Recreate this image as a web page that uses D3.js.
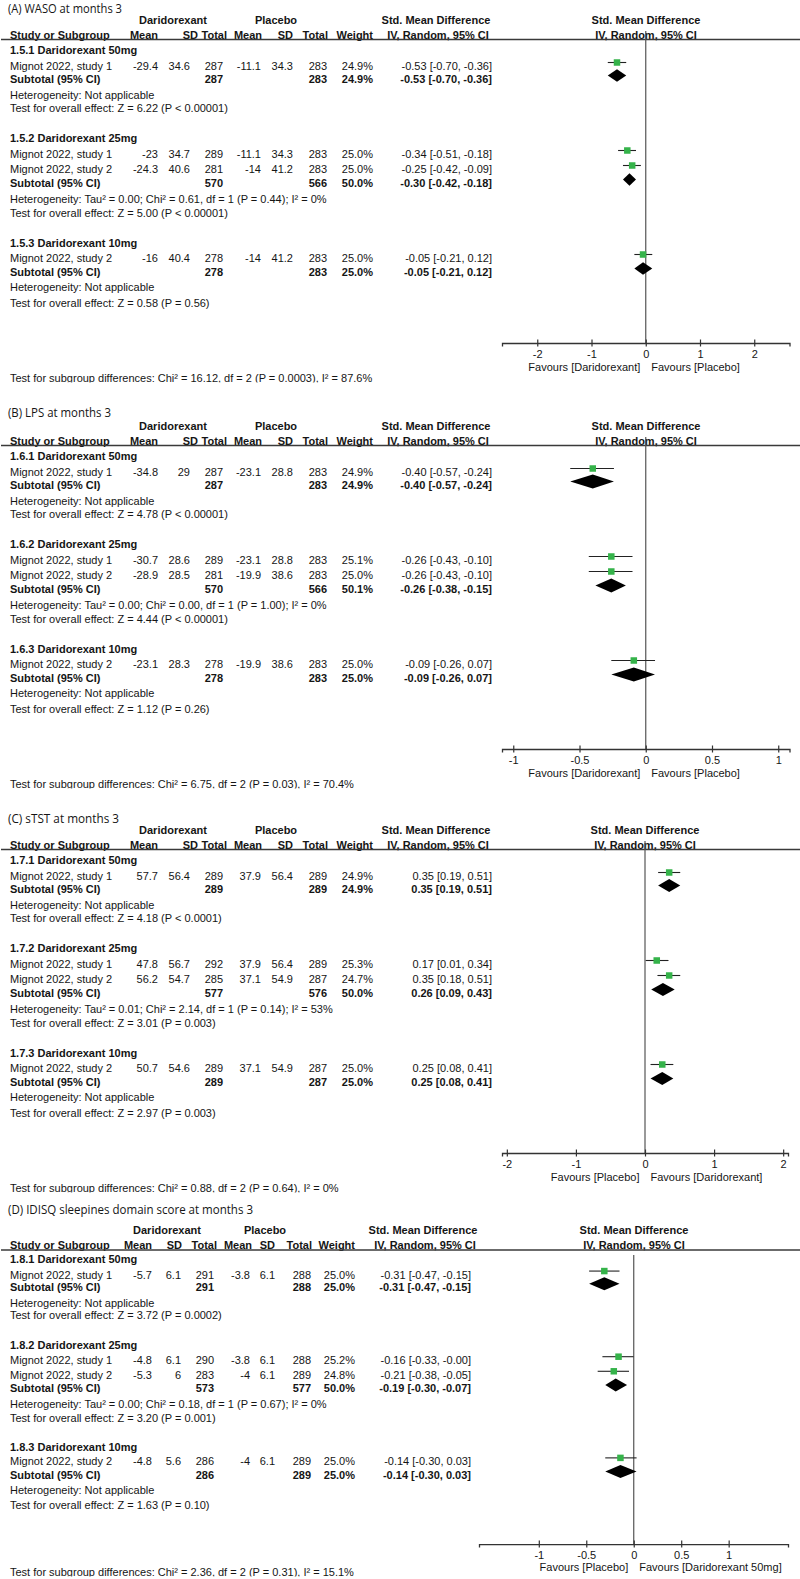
<!DOCTYPE html>
<html><head><meta charset="utf-8">
<script src="https://cdn.jsdelivr.net/npm/d3@7"></script>
<style>
body{margin:0;background:#fff;}
svg{display:block;}
text{font-family:"Liberation Sans",Arial,sans-serif;font-size:11px;fill:#151515;}
text.title{font-family:"Open Sans","Noto Sans",sans-serif;}
text.b{font-weight:bold;}
</style></head><body>
<svg id="c" width="800" height="1579"></svg>
<script>
// ---------------- DATA ----------------
const titles = ["(A) WASO at months 3", "(B) LPS at months 3", "(C) sTST at months 3", "(D) IDISQ sleepines domain score at months 3"];
const subgroupCodes = [["1.5.1", "1.5.2", "1.5.3"], ["1.6.1", "1.6.2", "1.6.3"], ["1.7.1", "1.7.2", "1.7.3"], ["1.8.1", "1.8.2", "1.8.3"]];
const doses = ["Daridorexant 50mg", "Daridorexant 25mg", "Daridorexant 10mg"];
const columnHeaders = ["Mean", "SD", "Total", "Mean", "SD", "Total", "Weight"];

// [subgroup, study, expMean, expSD, expN, ctlMean, ctlSD, ctlN, weight, smd, lo, hi]
const studiesA = [
  [0, "Mignot 2022, study 1", -29.4, 34.6, 287, -11.1, 34.3, 283, 24.9, -0.53, -0.70, -0.36],
  [1, "Mignot 2022, study 1", -23, 34.7, 289, -11.1, 34.3, 283, 25.0, -0.34, -0.51, -0.18],
  [1, "Mignot 2022, study 2", -24.3, 40.6, 281, -14, 41.2, 283, 25.0, -0.25, -0.42, -0.09],
  [2, "Mignot 2022, study 2", -16, 40.4, 278, -14, 41.2, 283, 25.0, -0.05, -0.21, 0.12]
];
const studiesB = [
  [0, "Mignot 2022, study 1", -34.8, 29, 287, -23.1, 28.8, 283, 24.9, -0.40, -0.57, -0.24],
  [1, "Mignot 2022, study 1", -30.7, 28.6, 289, -23.1, 28.8, 283, 25.1, -0.26, -0.43, -0.10],
  [1, "Mignot 2022, study 2", -28.9, 28.5, 281, -19.9, 38.6, 283, 25.0, -0.26, -0.43, -0.10],
  [2, "Mignot 2022, study 2", -23.1, 28.3, 278, -19.9, 38.6, 283, 25.0, -0.09, -0.26, 0.07]
];
const studiesC = [
  [0, "Mignot 2022, study 1", 57.7, 56.4, 289, 37.9, 56.4, 289, 24.9, 0.35, 0.19, 0.51],
  [1, "Mignot 2022, study 1", 47.8, 56.7, 292, 37.9, 56.4, 289, 25.3, 0.17, 0.01, 0.34],
  [1, "Mignot 2022, study 2", 56.2, 54.7, 285, 37.1, 54.9, 287, 24.7, 0.35, 0.18, 0.51],
  [2, "Mignot 2022, study 2", 50.7, 54.6, 289, 37.1, 54.9, 287, 25.0, 0.25, 0.08, 0.41]
];
const studiesD = [
  [0, "Mignot 2022, study 1", -5.7, 6.1, 291, -3.8, 6.1, 288, 25.0, -0.31, -0.47, -0.15],
  [1, "Mignot 2022, study 1", -4.8, 6.1, 290, -3.8, 6.1, 288, 25.2, -0.16, -0.33, -0.002],
  [1, "Mignot 2022, study 2", -5.3, 6, 283, -4, 6.1, 289, 24.8, -0.21, -0.38, -0.05],
  [2, "Mignot 2022, study 2", -4.8, 5.6, 286, -4, 6.1, 289, 25.0, -0.14, -0.30, 0.03]
];

// [expN, ctlN, weight, smd, lo, hi]
const subtotalsA = [[287, 283, 24.9, -0.53, -0.70, -0.36], [570, 566, 50.0, -0.30, -0.42, -0.18], [278, 283, 25.0, -0.05, -0.21, 0.12]];
const subtotalsB = [[287, 283, 24.9, -0.40, -0.57, -0.24], [570, 566, 50.1, -0.26, -0.38, -0.15], [278, 283, 25.0, -0.09, -0.26, 0.07]];
const subtotalsC = [[289, 289, 24.9, 0.35, 0.19, 0.51], [577, 576, 50.0, 0.26, 0.09, 0.43], [289, 287, 25.0, 0.25, 0.08, 0.41]];
const subtotalsD = [[291, 288, 25.0, -0.31, -0.47, -0.15], [573, 577, 50.0, -0.19, -0.30, -0.07], [286, 289, 25.0, -0.14, -0.30, 0.03]];

const heterogeneityA = ["Not applicable", "Tau² = 0.00; Chi² = 0.61, df = 1 (P = 0.44); I² = 0%", "Not applicable"];
const heterogeneityB = ["Not applicable", "Tau² = 0.00; Chi² = 0.00, df = 1 (P = 1.00); I² = 0%", "Not applicable"];
const heterogeneityC = ["Not applicable", "Tau² = 0.01; Chi² = 2.14, df = 1 (P = 0.14); I² = 53%", "Not applicable"];
const heterogeneityD = ["Not applicable", "Tau² = 0.00; Chi² = 0.18, df = 1 (P = 0.67); I² = 0%", "Not applicable"];

const overallA = ["Z = 6.22 (P < 0.00001)", "Z = 5.00 (P < 0.00001)", "Z = 0.58 (P = 0.56)"];
const overallB = ["Z = 4.78 (P < 0.00001)", "Z = 4.44 (P < 0.00001)", "Z = 1.12 (P = 0.26)"];
const overallC = ["Z = 4.18 (P < 0.0001)", "Z = 3.01 (P = 0.003)", "Z = 2.97 (P = 0.003)"];
const overallD = ["Z = 3.72 (P = 0.0002)", "Z = 3.20 (P = 0.001)", "Z = 1.63 (P = 0.10)"];

const subgroupDifferences = [
  "Chi² = 16.12, df = 2 (P = 0.0003), I² = 87.6%",
  "Chi² = 6.75, df = 2 (P = 0.03), I² = 70.4%",
  "Chi² = 0.88, df = 2 (P = 0.64), I² = 0%",
  "Chi² = 2.36, df = 2 (P = 0.31), I² = 15.1%"
];
const favours = [
  ["Favours [Daridorexant]", "Favours [Placebo]"],
  ["Favours [Daridorexant]", "Favours [Placebo]"],
  ["Favours [Placebo]", "Favours [Daridorexant]"],
  ["Favours [Placebo]", "Favours [Daridorexant 50mg]"]
];
const tickValues = [[-2, -1, 0, 1, 2], [-1, -0.5, 0, 0.5, 1], [-2, -1, 0, 1, 2], [-1, -0.5, 0, 0.5, 1]];
const axisLimits = [[-2.65, 2.65], [-1.085, 1.085], [-2.07, 2.07], [-1.63, 1.625]];

const studies = [studiesA, studiesB, studiesC, studiesD];
const subtotals = [subtotalsA, subtotalsB, subtotalsC, subtotalsD];
const heterogeneity = [heterogeneityA, heterogeneityB, heterogeneityC, heterogeneityD];
const overall = [overallA, overallB, overallC, overallD];

// ---------------- LAYOUT ----------------
const colsABC = {cols: [158, 190, 223, 261, 293, 327, 373], hdrCols: [158, 198, 227, 262, 293, 328, 373],
  eff: 492, effHdr: 436, grpExp: 173, grpCtl: 276};
const shift = t => (rel => t + rel);
const layouts = [
  Object.assign({Y: shift(0), hdr: {title: 9, grp: 20, col: 35, rule: 39.5}, zeroTop: 31, footer: 378,
    titleSize: 12.5, titleLen: 114, dia: 6.2, plot: [502, 789.5], plotHdr: 646}, colsABC),
  Object.assign({Y: shift(406), hdr: {title: 413, grp: 426, col: 441, rule: 445.5}, zeroTop: 437, footer: 784,
    titleSize: 11.8, titleLen: 103, dia: 7, plot: [502, 789.5], plotHdr: 646}, colsABC),
  Object.assign({Y: shift(810), hdr: {title: 819, grp: 830, col: 845, rule: 849.5}, zeroTop: 841, footer: 1188,
    titleSize: 11.8, titleLen: 111, dia: 6.5, plot: [502, 788], plotHdr: 645}, colsABC),
  {Y: rel => 1259 + (rel - 50) * 0.973, hdr: {title: 1210, grp: 1230, col: 1245, rule: 1250}, zeroTop: 1255, footer: 1572,
    titleSize: 11.8, titleLen: 245, dia: 6.5,
    cols: [152, 181, 214, 250, 275, 311, 355], hdrCols: [152, 182, 217, 252, 275, 312, 355],
    eff: 471, effHdr: 423, grpExp: 167, grpCtl: 265, plot: [479, 788], plotHdr: 634}
];
// row positions (relative to panel A)
const R = {sub: [50, 138, 243], studies: [[66], [154, 169], [258]],
  subtotal: [79, 183, 272], het: [95, 199, 287], test: [108, 213, 303], axis: 343, tickLbl: 354, fav: 367};
const BL = 4;     // baseline below text centre
const MK = 3.5;   // markers above text centre
const green = "#35b34a";

const svg = d3.select("#c");
const defs = svg.append("defs");
const fmt2 = v => v.toFixed(2);
const effText = (m, lo, hi) => `${fmt2(m)} [${fmt2(lo)}, ${fmt2(hi)}]`;

titles.forEach((title, p) => {
  const L = layouts[p];
  const Y = L.Y;
  const g = svg.append("g");
  const x = d3.scaleLinear().domain(axisLimits[p]).range(L.plot);
  const txt = (xx, y, s, anchor, cls) => g.append("text").attr("x", xx).attr("y", y + BL)
    .attr("text-anchor", anchor || "start").attr("class", cls || null).text(s);

  // title
  g.append("text").attr("class", "title").attr("x", 8).attr("y", L.hdr.title + BL)
    .style("font-size", L.titleSize + "px")
    .attr("textLength", L.titleLen).attr("lengthAdjust", "spacingAndGlyphs").text(title);
  // headers
  txt(L.grpExp, L.hdr.grp, "Daridorexant", "middle", "b");
  txt(L.grpCtl, L.hdr.grp, "Placebo", "middle", "b");
  txt(L.effHdr, L.hdr.grp, "Std. Mean Difference", "middle", "b");
  txt(L.plotHdr, L.hdr.grp, "Std. Mean Difference", "middle", "b");
  txt(10, L.hdr.col, "Study or Subgroup", "start", "b");
  columnHeaders.forEach((h, i) => txt(L.hdrCols[i], L.hdr.col, h, "end", "b"));
  txt(L.effHdr + 2, L.hdr.col, "IV, Random, 95% CI", "middle", "b");
  txt(L.plotHdr, L.hdr.col, "IV, Random, 95% CI", "middle", "b");
  g.append("line").attr("x1", 1).attr("x2", 800).attr("y1", L.hdr.rule).attr("y2", L.hdr.rule)
    .attr("stroke", "#3a3a3a").attr("stroke-width", 1.4);

  // zero line
  g.append("line").attr("x1", x(0)).attr("x2", x(0)).attr("y1", L.zeroTop).attr("y2", Y(R.axis))
    .attr("stroke", "#555").attr("stroke-width", 1.2);

  // subgroups
  [0, 1, 2].forEach(s => {
    txt(10, Y(R.sub[s]), `${subgroupCodes[p][s]} ${doses[s]}`, "start", "b");
    const rows = studies[p].filter(r => r[0] === s);
    rows.forEach((r, k) => {
      const y = Y(R.studies[s][k]);
      txt(10, y, r[1]);
      [r[2], r[3], r[4], r[5], r[6], r[7]].forEach((v, i) => txt(L.cols[i], y, String(v), "end"));
      txt(L.cols[6], y, r[8].toFixed(1) + "%", "end");
      txt(L.eff, y, effText(r[9], r[10], r[11]), "end");
      const ym = y - MK;
      g.append("line").attr("x1", x(r[10])).attr("x2", x(r[11])).attr("y1", ym).attr("y2", ym)
        .attr("stroke", "#222").attr("stroke-width", 1.1);
      const sz = 6.5 * Math.sqrt(r[8] / 25);
      g.append("rect").attr("x", x(r[9]) - sz / 2).attr("y", ym - sz / 2).attr("width", sz).attr("height", sz)
        .attr("fill", green);
    });
    const st = subtotals[p][s];
    const ys = Y(R.subtotal[s]);
    txt(10, ys, "Subtotal (95% CI)", "start", "b");
    txt(L.cols[2], ys, String(st[0]), "end", "b");
    txt(L.cols[5], ys, String(st[1]), "end", "b");
    txt(L.cols[6], ys, st[2].toFixed(1) + "%", "end", "b");
    txt(L.eff, ys, effText(st[3], st[4], st[5]), "end", "b");
    const yd = ys - MK, h = L.dia;
    g.append("path").attr("d", `M${x(st[4])},${yd}L${x(st[3])},${yd - h}L${x(st[5])},${yd}L${x(st[3])},${yd + h}Z`)
      .attr("fill", "#000");
    txt(10, Y(R.het[s]), "Heterogeneity: " + heterogeneity[p][s]);
    txt(10, Y(R.test[s]), "Test for overall effect: " + overall[p][s]);
  });

  // axis
  const ya = Y(R.axis);
  const ax = g.append("g").attr("transform", `translate(0,${ya})`)
    .call(d3.axisBottom(x).tickValues(tickValues[p]).tickFormat(d => String(d)).tickSizeOuter(0).tickSize(3.5));
  ax.select(".domain").attr("stroke", "#333").attr("stroke-width", 1.3);
  ax.selectAll(".tick line").attr("y1", -3.5).attr("y2", 3.5).attr("stroke", "#333").attr("stroke-width", 1.2);
  ax.selectAll(".tick text").attr("y", Y(R.tickLbl) - ya + BL).attr("dy", null)
    .style("font-family", '"Liberation Sans",Arial,sans-serif').style("font-size", "11px").attr("fill", "#151515");
  txt(x(0) - 5.5, Y(R.fav), favours[p][0], "end");
  txt(x(0) + 5.5, Y(R.fav), favours[p][1], "start");

  // footer (its lower edge is cut like the source)
  const cid = "clip" + p;
  defs.append("clipPath").attr("id", cid).append("rect")
    .attr("x", 0).attr("y", L.footer - 10).attr("width", 800).attr("height", 14.5);
  g.append("text").attr("clip-path", `url(#${cid})`).attr("x", 10).attr("y", L.footer + BL)
    .text("Test for subgroup differences: " + subgroupDifferences[p]);
});
</script>
</body></html>
